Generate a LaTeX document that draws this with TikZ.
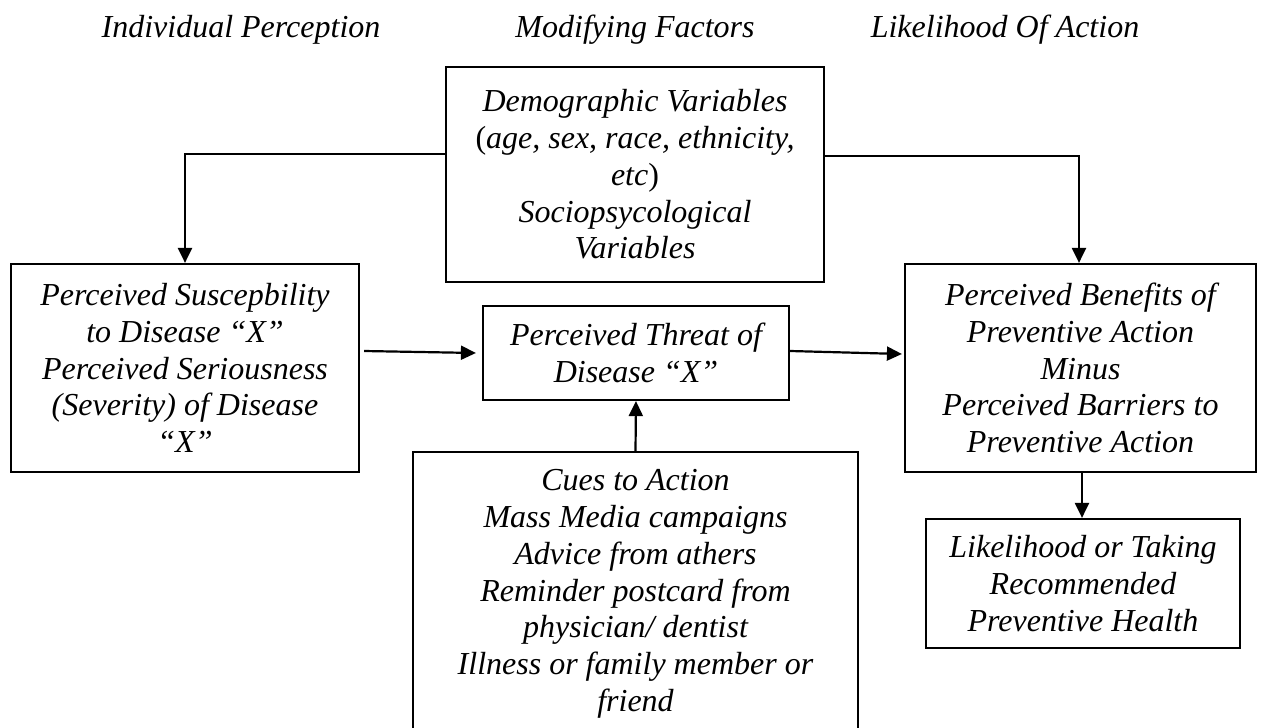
\documentclass[tikz,border=0pt]{standalone}
\usepackage{fontspec}
\setmainfont{Liberation Serif}
\usetikzlibrary{arrows.meta}

\begin{document}
\begin{tikzpicture}[x=1pt, y=-1pt,
    box/.style={draw, line width=2.2pt, align=center, inner sep=0pt,
                font=\fontsize{32}{36.8}\selectfont\itshape},
    conn/.style={line width=2.2pt, -{Triangle[length=15pt,width=14pt]}},
    head/.style={font=\fontsize{32}{36.8}\selectfont\itshape}]
  \clip (0,0) rectangle (1261,728);
  \fill[white] (0,0) rectangle (1261,728);
  % column headings
  \node[head] (hperc) at (241,30) {Individual Perception};
  \node[head] (hmod) at (635,30) {Modifying Factors};
  \node[head] (hlike) at (1005,30) {Likelihood Of Action};
  % boxes
  \node[box, minimum width=378pt, minimum height=215pt] (demo) at (635,174.5)
    {Demographic Variables\\ \textup{(}age, sex, race, ethnicity,\\ etc\textup{)}\\ Sociopsycological\\ Variables};
  \node[box, minimum width=348pt, minimum height=208pt] (suscep) at (185,368)
    {Perceived Suscepbility\\ to Disease “X”\\ Perceived Seriousness\\ (Severity) of Disease\\ “X”};
  \node[box, minimum width=306pt, minimum height=94pt] (threat) at (636,353)
    {Perceived Threat of\\ Disease “X”};
  \node[box, minimum width=351pt, minimum height=208pt] (benefit) at (1080.5,368)
    {Perceived Benefits of\\ Preventive Action\\ Minus\\ Perceived Barriers to\\ Preventive Action};
  \node[box, minimum width=445pt, minimum height=284pt] (cues) at (635.5,594)
    {Cues to Action\\ Mass Media campaigns\\ Advice from athers\\ Reminder postcard from\\ physician/ dentist\\ Illness or family member or\\ friend};
  \node[box, minimum width=314pt, minimum height=129pt] (likeli) at (1083,583.5)
    {Likelihood or Taking\\ Recommended\\ Preventive Health};
  % connectors
  \draw[conn] ([yshift=20.5pt]demo.west) -| (suscep.north);
  \draw[conn] ([yshift=18.5pt]demo.east) -| ([xshift=-1.5pt]benefit.north);
  \draw[conn] ([xshift=4pt,yshift=17pt]suscep.east) -- ([xshift=-6pt]threat.west);
  \draw[conn] ([yshift=2pt]threat.east) -- ([xshift=-2pt,yshift=14pt]benefit.west);
  \draw[conn] (cues.north) -- (threat.south);
  \draw[conn] ([xshift=1.5pt]benefit.south) -- ([xshift=1.5pt]benefit.south |- likeli.north);
\end{tikzpicture}
\end{document}
